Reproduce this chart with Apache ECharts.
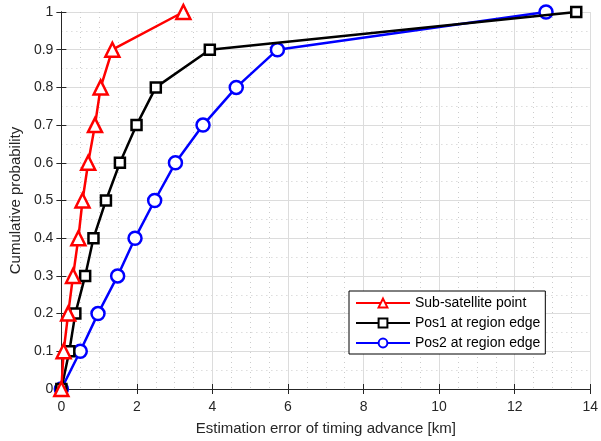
<!DOCTYPE html>
<html><head><meta charset="utf-8">
<script src="https://cdn.jsdelivr.net/npm/echarts@6/dist/echarts.min.js"></script>
<style>html,body{margin:0;padding:0;background:#fff}#c{width:601px;height:441px}</style>
</head><body><div id="c"></div>
<script>
const probs = [0,0.1,0.2,0.3,0.4,0.5,0.6,0.7,0.8,0.9,1.0];
const subSat = [0,0.06,0.18,0.31,0.45,0.56,0.71,0.89,1.04,1.35,3.23];
const pos1 = [0,0.21,0.37,0.63,0.85,1.18,1.55,1.99,2.5,3.93,13.63];
const pos2 = [0,0.5,0.97,1.49,1.95,2.47,3.02,3.75,4.63,5.72,12.83];
const names = ['Sub-satellite point','Pos1 at region edge','Pos2 at region edge'];
const xTitle = 'Estimation error of timing advance [km]';
const yTitle = 'Cumulative probability';

const font = 'Liberation Sans, Arial, sans-serif';
const axisCol = '#262626';
function pairs(xs){ return xs.map((x,i)=>[x,probs[i]]); }
const chart = echarts.init(document.getElementById('c'));
const gridLines = {
  splitLine:{show:true,lineStyle:{color:'#dcdcdc',width:1}},
  minorSplitLine:{show:true,lineStyle:{color:'#cccccc',type:[1,4],width:1}}
};
chart.setOption({
  animation:false,
  grid:{left:60,right:10,top:12,bottom:48,containLabel:false},
  legend:{
    orient:'vertical', left:349, top:291,
    backgroundColor:'#fff', borderColor:'#000', borderWidth:1,
    padding:[5,5,4,6], itemGap:6, itemWidth:54, itemHeight:11,
    textStyle:{fontFamily:font,fontSize:14,color:'#000'},
    data:names
  },
  xAxis:[{
    type:'value', min:0, max:14, interval:2, minorTick:{show:false,splitNumber:4},
    axisLine:{show:true,onZero:false,lineStyle:{color:axisCol}},
    axisTick:{inside:true,length:5,lineStyle:{color:axisCol}},
    axisLabel:{fontFamily:font,fontSize:14,color:axisCol,margin:11},
    name:xTitle, nameLocation:'middle', nameGap:32,
    nameTextStyle:{fontFamily:font,fontSize:15,color:axisCol},
    minorSplitLine:gridLines.minorSplitLine, splitLine:gridLines.splitLine
  },{
    type:'value', position:'top', min:0, max:14, interval:2,
    axisLine:{show:true,lineStyle:{color:axisCol}},
    axisTick:{inside:true,length:5,lineStyle:{color:axisCol}},
    axisLabel:{show:false}, splitLine:{show:false}
  }],
  yAxis:[{
    type:'value', min:0, max:1, interval:0.1, minorTick:{show:false,splitNumber:2},
    axisLine:{show:true,onZero:false,lineStyle:{color:axisCol}},
    axisTick:{inside:true,length:5,lineStyle:{color:axisCol}},
    axisLabel:{fontFamily:font,fontSize:14,color:axisCol,margin:8,
      formatter:v=>String(Math.round(v*10)/10)},
    name:yTitle, nameLocation:'middle', nameGap:34, nameRotate:90,
    nameTextStyle:{fontFamily:font,fontSize:15,color:axisCol},
    minorSplitLine:gridLines.minorSplitLine, splitLine:gridLines.splitLine
  },{
    type:'value', position:'right', min:0, max:1, interval:0.1,
    axisLine:{show:true,lineStyle:{color:axisCol}},
    axisTick:{inside:true,length:5,lineStyle:{color:axisCol}},
    axisLabel:{show:false}, splitLine:{show:false}
  }],
  series:[
    {name:names[0],type:'line',data:pairs(subSat),symbol:'triangle',symbolSize:14,
     lineStyle:{color:'#ff0000',width:2.5},itemStyle:{color:'#fff',borderColor:'#ff0000',borderWidth:2.5},
     color:'#ff0000',z:5},
    {name:names[1],type:'line',data:pairs(pos1),symbol:'rect',symbolSize:10,
     lineStyle:{color:'#000000',width:2.5},itemStyle:{color:'#fff',borderColor:'#000000',borderWidth:2.5},
     color:'#000000',z:4},
    {name:names[2],type:'line',data:pairs(pos2),symbol:'circle',symbolSize:13,
     lineStyle:{color:'#0000ff',width:2.5},itemStyle:{color:'#fff',borderColor:'#0000ff',borderWidth:2.5},
     color:'#0000ff',z:3}
  ]
});
</script></body></html>
